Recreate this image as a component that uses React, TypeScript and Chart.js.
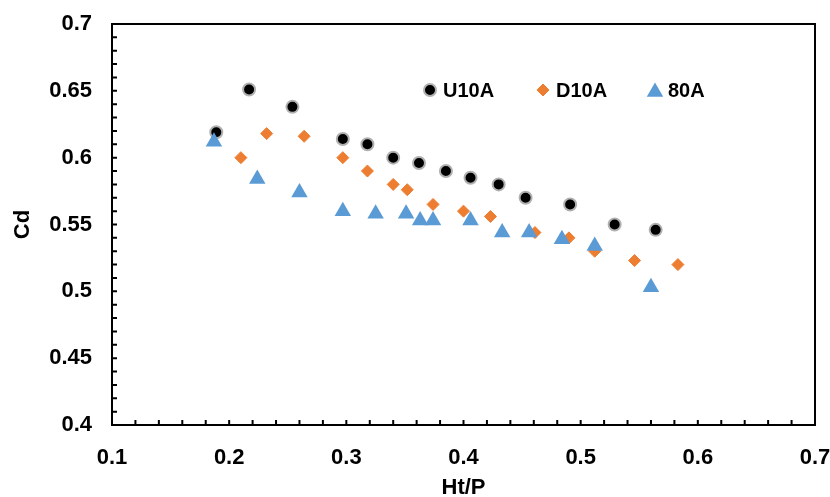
import React, { useEffect, useRef } from 'react';
import { Chart, registerables } from 'chart.js';
import { drawPoint } from 'chart.js/helpers';

Chart.register(...registerables);

const seriesNames = ['U10A', 'D10A', '80A'];

const u10aX = [0.189, 0.217, 0.254, 0.297, 0.318, 0.340, 0.362, 0.385, 0.406, 0.430, 0.453, 0.491, 0.529, 0.564];
const u10aY = [0.619, 0.651, 0.638, 0.614, 0.610, 0.600, 0.596, 0.590, 0.585, 0.580, 0.570, 0.565, 0.550, 0.546];

const d10aX = [0.210, 0.232, 0.264, 0.297, 0.318, 0.340, 0.352, 0.374, 0.400, 0.423, 0.461, 0.490, 0.512, 0.546, 0.583];
const d10aY = [0.600, 0.618, 0.616, 0.600, 0.590, 0.580, 0.576, 0.565, 0.560, 0.556, 0.544, 0.540, 0.530, 0.523, 0.520];

const a80X = [0.187, 0.224, 0.260, 0.297, 0.325, 0.351, 0.363, 0.374, 0.406, 0.433, 0.456, 0.484, 0.512, 0.560];
const a80Y = [0.612, 0.584, 0.574, 0.560, 0.558, 0.558, 0.553, 0.553, 0.553, 0.544, 0.544, 0.539, 0.534, 0.503];

const xTickLabels = ['0.1', '0.2', '0.3', '0.4', '0.5', '0.6', '0.7'];
const yTickLabels = ['0.4', '0.45', '0.5', '0.55', '0.6', '0.65', '0.7'];
const xMinorStep = 0.02;
const yMinorStep = 0.01;

const FONT = '"Liberation Sans", Arial, sans-serif';

const toPoints = (xs: number[], ys: number[]) => xs.map((x, i) => ({ x, y: ys[i] }));

const frameAndTicks = {
  id: 'frameAndTicks',
  afterDraw(chart: any) {
    const { ctx, chartArea } = chart;
    const xs = chart.scales.x;
    const ys = chart.scales.y;
    ctx.save();
    ctx.strokeStyle = '#000';
    ctx.lineWidth = 2;
    ctx.strokeRect(chartArea.left, chartArea.top, chartArea.right - chartArea.left, chartArea.bottom - chartArea.top);
    ctx.beginPath();
    const tl = 5;
    const nx = Math.round((xs.max - xs.min) / xMinorStep);
    for (let i = 0; i <= nx; i++) {
      const px = xs.getPixelForValue(xs.min + i * xMinorStep);
      ctx.moveTo(px, chartArea.bottom);
      ctx.lineTo(px, chartArea.bottom - tl);
    }
    const ny = Math.round((ys.max - ys.min) / yMinorStep);
    for (let i = 0; i <= ny; i++) {
      const py = ys.getPixelForValue(ys.min + i * yMinorStep);
      ctx.moveTo(chartArea.left, py);
      ctx.lineTo(chartArea.left + tl, py);
    }
    ctx.stroke();
    ctx.restore();
  },
};

const innerLegend = {
  id: 'innerLegend',
  afterDraw(chart: any) {
    const { ctx, chartArea } = chart;
    const offsets = [318, 431, 543];
    const cy = chartArea.top + 66;
    ctx.save();
    chart.data.datasets.forEach((ds: any, i: number) => {
      const cx = chartArea.left + offsets[i];
      ctx.fillStyle = ds.backgroundColor;
      ctx.strokeStyle = ds.borderColor;
      ctx.lineWidth = ds.borderWidth;
      const dy = ds.pointStyle === 'triangle' ? 2 : 0;
      drawPoint(ctx, { pointStyle: ds.pointStyle, radius: ds.pointRadius, borderWidth: ds.borderWidth, rotation: 0 } as any, cx, cy + dy);
      ctx.fillStyle = '#000';
      ctx.font = `bold 20px ${FONT}`;
      ctx.textBaseline = 'middle';
      ctx.textAlign = 'left';
      ctx.fillText(ds.label, cx + 13, cy + 1);
    });
    ctx.restore();
  },
};

export default function App() {
  const ref = useRef<HTMLCanvasElement>(null);
  useEffect(() => {
    if (!ref.current) return;
    const chart = new Chart(ref.current, {
      type: 'scatter',
      data: {
        datasets: [
          {
            label: seriesNames[0],
            data: toPoints(u10aX, u10aY),
            pointStyle: 'circle',
            pointRadius: 6,
            borderWidth: 2,
            backgroundColor: '#000000',
            borderColor: '#b0b0b0',
            order: 3,
          },
          {
            label: seriesNames[1],
            data: toPoints(d10aX, d10aY),
            pointStyle: 'rectRot',
            pointRadius: 6,
            borderWidth: 1,
            backgroundColor: '#ED7D31',
            borderColor: '#ED7D31',
            order: 2,
          },
          {
            label: seriesNames[2],
            data: toPoints(a80X, a80Y),
            pointStyle: 'triangle',
            pointRadius: 9.5,
            borderWidth: 0,
            backgroundColor: '#5B9BD5',
            borderColor: '#5B9BD5',
            order: 1,
          },
        ] as any,
      },
      options: {
        animation: false,
        responsive: false,
        layout: { padding: { left: 12, top: 24, right: 15, bottom: 0 } },
        plugins: { legend: { display: false }, tooltip: { enabled: false } },
        scales: {
          x: {
            type: 'linear',
            min: 0.1,
            max: 0.7,
            afterFit: (s: any) => { s.height = 72; s.paddingLeft = 0; s.paddingRight = 0; },
            grid: { display: false, drawTicks: false },
            border: { display: true, color: '#000', width: 2 },
            ticks: {
              stepSize: 0.1,
              padding: 20,
              color: '#000',
              font: { family: FONT, size: 22, weight: 'bold' },
              callback: (v: any) => {
                const i = Math.round((Number(v) - 0.1) / 0.1);
                return xTickLabels[i] ?? '';
              },
            },
            title: {
              display: true,
              text: 'Ht/P',
              color: '#000',
              padding: { top: 0, bottom: -2 },
              font: { family: FONT, size: 22, weight: 'bold', lineHeight: 1 },
            },
          },
          y: {
            type: 'linear',
            min: 0.4,
            max: 0.7,
            afterFit: (s: any) => { s.width = 100; s.paddingTop = 0; s.paddingBottom = 0; },
            grid: { display: false, drawTicks: false },
            border: { display: true, color: '#000', width: 2 },
            ticks: {
              stepSize: 0.05,
              padding: 20,
              color: '#000',
              font: { family: FONT, size: 22, weight: 'bold' },
              callback: (v: any) => {
                const i = Math.round((Number(v) - 0.4) / 0.05);
                return yTickLabels[i] ?? '';
              },
            },
            title: {
              display: true,
              text: 'Cd',
              color: '#000',
              padding: 0,
              font: { family: FONT, size: 22, weight: 'bold', lineHeight: 1 },
            },
          },
        },
      } as any,
      plugins: [frameAndTicks, innerLegend],
    });
    return () => chart.destroy();
  }, []);
  return (
    <div style={{ position: 'absolute', left: 0, top: 0, width: 830, height: 497 }}>
      <canvas ref={ref} width={830} height={497} style={{ display: 'block' }} />
    </div>
  );
}
